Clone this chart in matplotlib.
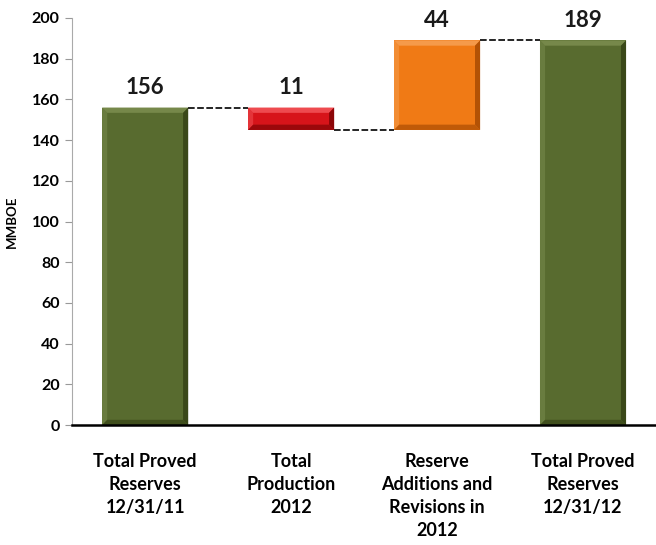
import matplotlib
matplotlib.use('Agg')
import matplotlib.pyplot as plt
from matplotlib.patches import Polygon

categories = ['Total Proved\nReserves\n12/31/11', 'Total\nProduction\n2012',
              'Reserve\nAdditions and\nRevisions in\n2012', 'Total Proved\nReserves\n12/31/12']
changes = [156, -11, 44, 189]
kinds = ['total', 'delta', 'delta', 'total']
value_labels = ['156', '11', '44', '189']
colors = {'green': ('#586b2f', '#76884a', '#3a4819'),
          'red': ('#d7141a', '#ee4a4f', '#8c0608'),
          'orange': ('#f07a15', '#f59a4a', '#b35205')}
bar_colors = ['green', 'red', 'orange', 'green']

plt.rcParams['font.family'] = ['Lato', 'DejaVu Sans']
plt.rcParams['font.weight'] = 'bold'

fig = plt.figure(figsize=(6.56, 5.45), dpi=100)
ax = fig.add_axes([0.11, 0.22, 0.89, 0.747])

width = 0.59
bx, by = 0.035, 2.6  # bevel size in data units


def bevel_bar(x, lo, hi, key):
    base, light, dark = colors[key]
    l, r = x - width / 2, x + width / 2
    ax.add_patch(Polygon([(l, lo), (r, lo), (r, hi), (l, hi)], closed=True,
                         facecolor=base, edgecolor='none', zorder=3))
    h = min(by, (hi - lo) / 3)
    # top and left edges lit, right and bottom in shade
    ax.add_patch(Polygon([(l, hi), (r, hi), (r - bx, hi - h), (l + bx, hi - h)],
                         facecolor=light, edgecolor='none', zorder=4))
    ax.add_patch(Polygon([(l, lo), (l, hi), (l + bx, hi - h), (l + bx, lo + h)],
                         facecolor=light, edgecolor='none', alpha=0.6, zorder=4))
    ax.add_patch(Polygon([(r, lo), (r, hi), (r - bx, hi - h), (r - bx, lo + h)],
                         facecolor=dark, edgecolor='none', zorder=4))
    ax.add_patch(Polygon([(l, lo), (r, lo), (r - bx, lo + h), (l + bx, lo + h)],
                         facecolor=dark, edgecolor='none', alpha=0.8, zorder=4))


level = 0
tops = []
for i, (c, k) in enumerate(zip(changes, kinds)):
    if k == 'total':
        lo, hi = 0, c
        level = c
    else:
        lo, hi = sorted([level, level + c])
        level = level + c
    bevel_bar(i, lo, hi, bar_colors[i])
    tops.append((lo, hi, level))
    ax.text(i, hi + 10, value_labels[i], ha='center', va='center',
            fontsize=16, fontweight='bold', color='#1a1a1a', zorder=5)

# dashed connectors between consecutive bars
for i in range(len(tops) - 1):
    y = tops[i][2]
    ax.plot([i + width / 2, i + 1 - width / 2], [y, y], color='black',
            lw=1.2, linestyle=(0, (4, 1.5)), zorder=2)

ax.set_xlim(-0.5, 3.5)
ax.set_ylim(0, 200)
ax.set_yticks(range(0, 201, 20))
ax.set_xticks(range(len(categories)))
ax.set_xticklabels(categories, fontsize=13, fontweight='bold', linespacing=1.42)
ax.tick_params(axis='x', length=0, pad=20)
ax.tick_params(axis='y', labelsize=11.5, length=5, color='#999999', pad=4)
for lbl in ax.get_yticklabels():
    lbl.set_fontweight('bold')
ax.set_ylabel('MMBOE', fontsize=9.5, fontweight='bold', labelpad=10)

ax.spines['top'].set_visible(False)
ax.spines['right'].set_visible(False)
ax.spines['left'].set_color('#aaaaaa')
ax.spines['bottom'].set_color('black')
ax.spines['bottom'].set_linewidth(1.8)
ax.spines['bottom'].set_zorder(6)

fig.savefig('out.png', dpi=100)
